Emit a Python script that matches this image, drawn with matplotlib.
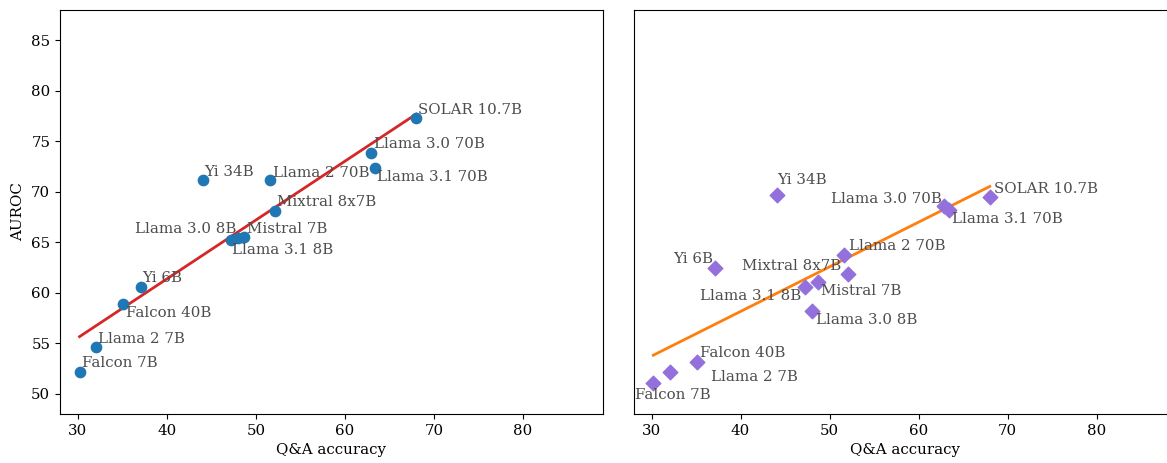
import numpy as np
import matplotlib.pyplot as plt

plt.rcParams['font.family'] = 'DejaVu Serif'

models = ['Falcon 7B', 'Llama 2 7B', 'Falcon 40B', 'Yi 6B', 'Yi 34B',
          'Llama 3.1 8B', 'Llama 3.0 8B', 'Mistral 7B', 'Llama 2 70B',
          'Mixtral 8x7B', 'Llama 3.0 70B', 'Llama 3.1 70B', 'SOLAR 10.7B']
qa_acc = [30.2, 32.1, 35.1, 37.1, 44.1, 47.2, 48.0, 48.7, 51.6, 52.1, 62.9, 63.4, 68.0]
auroc_left = [52.2, 54.6, 58.9, 60.6, 71.2, 65.2, 65.4, 65.5, 71.2, 68.1, 73.8, 72.4, 77.3]
auroc_right = [51.1, 52.2, 53.1, 62.5, 69.7, 60.6, 58.2, 61.1, 63.7, 61.9, 68.6, 68.2, 69.5]

# label offsets in pixels (dx, dy, ha)
offs_left = {
    'Falcon 7B': (2, 5, 'left'), 'Llama 2 7B': (2, 4, 'left'),
    'Falcon 40B': (3, -13, 'left'), 'Yi 6B': (1, 5, 'left'),
    'Yi 34B': (1, 4, 'left'), 'Llama 3.1 8B': (1, -14, 'left'),
    'Llama 3.0 8B': (-2, 5, 'right'), 'Mistral 7B': (3, 4, 'left'),
    'Llama 2 70B': (3, 3, 'left'), 'Mixtral 8x7B': (2, 5, 'left'),
    'Llama 3.0 70B': (3, 5, 'left'), 'Llama 3.1 70B': (2, -13, 'left'),
    'SOLAR 10.7B': (2, 4, 'left'),
}
offs_right = {
    'Falcon 7B': (-18, -16, 'left'), 'Llama 2 7B': (41, -9, 'left'),
    'Falcon 40B': (3, 5, 'left'), 'Yi 6B': (-2, 5, 'right'),
    'Yi 34B': (0, 11, 'left'), 'Llama 3.1 8B': (-3, -13, 'right'),
    'Llama 3.0 8B': (4, -13, 'left'), 'Mistral 7B': (3, -13, 'left'),
    'Llama 2 70B': (5, 5, 'left'), 'Mixtral 8x7B': (-7, 4, 'right'),
    'Llama 3.0 70B': (-2, 3, 'right'), 'Llama 3.1 70B': (3, -13, 'left'),
    'SOLAR 10.7B': (4, 4, 'left'),
}

def panel(ax, x, y, marker, color, linecolor, offs):
    x = np.array(x)
    y = np.array(y)
    ax.scatter(x, y, marker=marker, color=color, s=55, zorder=3)
    m, b = np.polyfit(x, y, 1)
    ax.plot(x, m*x + b, color=linecolor, lw=2, zorder=2)
    for name, xi, yi in zip(models, x, y):
        dx, dy, ha = offs[name]
        ax.annotate(name, (xi, yi), xytext=(dx, dy), textcoords='offset pixels',
                    ha=ha, va='baseline', fontsize=10.8, color='#4d4d4d', zorder=4)
    ax.set_xlim(28, 89)
    ax.set_ylim(48, 88)
    ax.set_xticks([30, 40, 50, 60, 70, 80])
    ax.set_xlabel('Q&A accuracy', fontsize=10.8)
    ax.tick_params(labelsize=10.8)

fig = plt.figure(figsize=(11.67, 4.63), dpi=100)
W, H = 1167, 463
ax1 = fig.add_axes([60/W, 49/H, 543/W, 404/H])
ax2 = fig.add_axes([633.7/W, 49/H, 543/W, 404/H])

panel(ax1, qa_acc, auroc_left, 'o', '#1f77b4', '#d62728', offs_left)
panel(ax2, qa_acc, auroc_right, 'D', '#9370db', '#ff7f0e', offs_right)
ax1.set_yticks([50, 55, 60, 65, 70, 75, 80, 85])
ax1.set_ylabel('AUROC', fontsize=10.8)
ax2.tick_params(axis='y', left=False, labelleft=False)

fig.savefig('out.png', dpi=100)
